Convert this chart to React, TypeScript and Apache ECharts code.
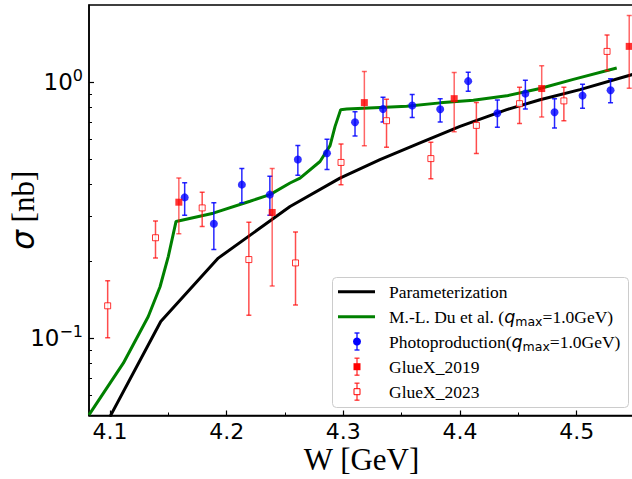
import React, { useEffect, useRef } from "react";
import * as echarts from "echarts";

// ---- data ----
const xTicksMajor = [4.1, 4.2, 4.3, 4.4, 4.5];
const xTicksMinor = [4.15, 4.25, 4.35, 4.45];
const yTicksMajor = [0.1, 1];
const yTicksMinor = [0.06, 0.07, 0.08, 0.09, 0.2, 0.3, 0.4, 0.5, 0.6, 0.7, 0.8, 0.9];

const paramW = [4.1, 4.1435, 4.1928, 4.2543, 4.2971, 4.3314, 4.3657, 4.4, 4.44, 4.4686, 4.5028, 4.5491];
const paramS = [0.0495, 0.1163, 0.2057, 0.327, 0.422, 0.498, 0.579, 0.672, 0.781, 0.854, 0.935, 1.075];

const duW = [4.082, 4.1114, 4.1328, 4.1429, 4.15, 4.1566, 4.1885, 4.22, 4.2371, 4.2543, 4.2629, 4.28, 4.2886, 4.2929, 4.2977, 4.3029, 4.3314, 4.3543, 4.3829, 4.4114, 4.44, 4.4686, 4.4971, 4.5343];
const duS = [0.0503, 0.08, 0.1217, 0.159, 0.209, 0.286, 0.308, 0.343, 0.364, 0.404, 0.422, 0.49, 0.565, 0.672, 0.781, 0.785, 0.797, 0.805, 0.83, 0.85, 0.884, 0.945, 1.025, 1.136];

const photoW = [4.164, 4.189, 4.213, 4.237, 4.261, 4.286, 4.31, 4.334, 4.359, 4.383, 4.407, 4.432, 4.456, 4.481, 4.505, 4.529];
const photoS = [0.355, 0.28, 0.398, 0.364, 0.499, 0.528, 0.697, 0.786, 0.81, 0.784, 1.009, 0.756, 0.902, 0.763, 0.886, 0.93];
const photoLo = [0.302, 0.222, 0.338, 0.302, 0.433, 0.456, 0.616, 0.699, 0.727, 0.699, 0.922, 0.666, 0.786, 0.662, 0.791, 0.83];
const photoHi = [0.405, 0.338, 0.46, 0.429, 0.566, 0.598, 0.767, 0.873, 0.894, 0.862, 1.094, 0.852, 1.018, 0.862, 0.982, 1.03];

const g19W = [4.159, 4.239, 4.318, 4.395, 4.47, 4.545];
const g19S = [0.34, 0.31, 0.832, 0.862, 0.944, 1.379];
const g19Lo = [0.256, 0.16, 0.564, 0.64, 0.731, 0.947];
const g19Hi = [0.423, 0.46, 1.1, 1.09, 1.159, 1.82];

const g23W = [4.098, 4.139, 4.179, 4.219, 4.259, 4.298, 4.337, 4.375, 4.414, 4.451, 4.489, 4.526];
const g23S = [0.134, 0.247, 0.323, 0.203, 0.197, 0.486, 0.707, 0.503, 0.678, 0.824, 0.845, 1.318];
const g23Lo = [0.1005, 0.206, 0.273, 0.123, 0.135, 0.398, 0.557, 0.42, 0.527, 0.69, 0.707, 1.107];
const g23Hi = [0.168, 0.287, 0.372, 0.284, 0.26, 0.574, 0.858, 0.583, 0.832, 0.956, 0.956, 1.528];

const legendNames = [
  "Parameterization",
  "M.-L. Du et al. (",
  "Photoproduction(",
  "GlueX_2019",
  "GlueX_2023",
];

const X_MIN = 4.082;
const X_MAX = 4.5491;
const Y_MIN = 0.05;
const Y_MAX = 2.0;

const SERIF = "Liberation Serif";
const SANS = "DejaVu Sans";

function errRender(color: string, cap: number) {
  return (params: any, api: any) => {
    const x = api.value(0);
    const lo = api.coord([x, api.value(1)]);
    const hi = api.coord([x, api.value(2)]);
    const style = { stroke: color, lineWidth: 1.5 };
    return {
      type: "group",
      children: [
        { type: "line", shape: { x1: lo[0], y1: lo[1], x2: hi[0], y2: hi[1] }, style },
        { type: "line", shape: { x1: lo[0] - cap, y1: lo[1], x2: lo[0] + cap, y2: lo[1] }, style },
        { type: "line", shape: { x1: hi[0] - cap, y1: hi[1], x2: hi[0] + cap, y2: hi[1] }, style },
      ],
    };
  };
}

const zip2 = (a: number[], b: number[]) => a.map((v, i) => [v, b[i]]);
const zip3 = (a: number[], b: number[], c: number[]) => a.map((v, i) => [v, b[i], c[i]]);

function buildLegend() {
  const lx = 332.5, ly = 277.5, lw = 296, lh = 130;
  const rows = [291.7, 316.7, 341.5, 366.7, 391.7];
  const hx1 = 338, hx2 = 375, hc = 357;
  const tx = 389;
  const fs = 17.5;
  const richBase = {
    t: { fontFamily: SERIF, fontSize: fs, lineHeight: 22, fill: "#000" },
    q: { fontFamily: SANS, fontStyle: "italic", fontSize: fs, lineHeight: 22, fill: "#000" },
    m: { fontFamily: SANS, fontSize: 12.5, lineHeight: 12, verticalAlign: "bottom", fill: "#000" },
  };
  const els: any[] = [];
  els.push({
    type: "rect",
    shape: { x: lx, y: ly, width: lw, height: lh, r: 4 },
    style: { fill: "rgba(255,255,255,0.8)", stroke: "#cccccc", lineWidth: 1 },
    z: 100,
  });
  els.push({ type: "line", shape: { x1: hx1, y1: rows[0], x2: hx2, y2: rows[0] }, style: { stroke: "#000", lineWidth: 3 }, z: 101 });
  els.push({ type: "line", shape: { x1: hx1, y1: rows[1], x2: hx2, y2: rows[1] }, style: { stroke: "#008000", lineWidth: 3 }, z: 101 });
  const eb = (cy: number, color: string, half: number) => [
    { type: "line", shape: { x1: hc, y1: cy - half, x2: hc, y2: cy + half }, style: { stroke: color, lineWidth: 1.5 }, z: 101 },
    { type: "line", shape: { x1: hc - 2.5, y1: cy - half, x2: hc + 2.5, y2: cy - half }, style: { stroke: color, lineWidth: 1.5 }, z: 101 },
    { type: "line", shape: { x1: hc - 2.5, y1: cy + half, x2: hc + 2.5, y2: cy + half }, style: { stroke: color, lineWidth: 1.5 }, z: 101 },
  ];
  els.push(...eb(rows[2], "rgba(0,0,255,0.85)", 8.5));
  els.push({ type: "circle", shape: { cx: hc, cy: rows[2], r: 4 }, style: { fill: "#0000ff" }, z: 102 });
  els.push(...eb(rows[3], "rgba(255,0,0,0.7)", 8.5));
  els.push({ type: "rect", shape: { x: hc - 3.5, y: rows[3] - 3.5, width: 7, height: 7 }, style: { fill: "#ff0000" }, z: 102 });
  els.push(...eb(rows[4], "rgba(255,0,0,0.7)", 8.5));
  els.push({ type: "rect", shape: { x: hc - 3, y: rows[4] - 3, width: 6, height: 6 }, style: { fill: "#ffffff", stroke: "#ff0000", lineWidth: 1 }, z: 102 });

  const texts = [
    `{t|${legendNames[0]}}`,
    `{t|${legendNames[1]}}{q|q}{m|max}{t|=1.0GeV)}`,
    `{t|${legendNames[2]}}{q|q}{m|max}{t|=1.0GeV)}`,
    `{t|${legendNames[3]}}`,
    `{t|${legendNames[4]}}`,
  ];
  texts.forEach((t, i) => {
    els.push({
      type: "text",
      x: tx,
      y: rows[i],
      style: { text: t, rich: richBase, verticalAlign: "middle", align: "left", fontFamily: SERIF, fontSize: fs },
      z: 102,
    });
  });
  return els;
}

export default function App() {
  const ref = useRef<HTMLDivElement>(null);
  useEffect(() => {
    document.body.style.margin = "0";
    if (!ref.current) return;
    const chart = echarts.init(ref.current, undefined, { renderer: "svg" });
    const axisLineStyle = { color: "#000", width: 1.5 };
    const option: any = {
      animation: false,
      backgroundColor: "#fff",
      grid: {
        left: 89,
        right: -2,
        top: 5,
        bottom: 63.5,
        show: true,
        borderColor: "#000",
        borderWidth: 1.5,
        backgroundColor: "transparent",
        containLabel: false,
        outerBoundsMode: "none",
      },
      xAxis: [
        {
          type: "value",
          min: X_MIN,
          max: X_MAX,
          position: "bottom",
          axisLine: { show: true, lineStyle: axisLineStyle },
          axisTick: { show: true, inside: true, length: 5, customValues: xTicksMajor, lineStyle: { color: "#000", width: 1.2 } },
          axisLabel: {
            customValues: xTicksMajor,
            formatter: (v: number) => v.toFixed(1),
            fontFamily: SANS,
            fontSize: 22,
            lineHeight: 22,
            color: "#000",
            margin: 5,
          },
          splitLine: { show: false },
          name: "W [GeV]",
          nameLocation: "middle",
          nameGap: 31,
          nameMoveOverlap: false,
          nameTextStyle: { fontFamily: SERIF, fontSize: 31, lineHeight: 26, color: "#000" },
        },
        {
          type: "value",
          min: X_MIN,
          max: X_MAX,
          position: "bottom",
          axisLine: { show: false },
          axisTick: { show: true, inside: true, length: 3, customValues: xTicksMinor, lineStyle: { color: "#000", width: 1 } },
          axisLabel: { show: false },
          splitLine: { show: false },
        },
      ],
      yAxis: [
        {
          type: "log",
          logBase: 10,
          min: Y_MIN,
          max: Y_MAX,
          position: "left",
          axisLine: { show: true, lineStyle: axisLineStyle },
          axisTick: { show: true, inside: true, length: 5, customValues: yTicksMajor, lineStyle: { color: "#000", width: 1.2 } },
          axisLabel: {
            customValues: yTicksMajor,
            formatter: (v: number) => {
              const e = Math.round(Math.log10(v));
              return `{b|10}{s|${e < 0 ? "\u2212" : ""}${Math.abs(e)}}`;
            },
            margin: 6,
            rich: {
              b: { fontFamily: SANS, fontSize: 23, lineHeight: 30, color: "#000" },
              s: { fontFamily: SANS, fontSize: 16, lineHeight: 16, verticalAlign: "top", color: "#000" },
            },
          },
          splitLine: { show: false },
          name: "{s|\u03c3}{n| [nb]}",
          nameLocation: "middle",
          nameRotate: 90,
          nameGap: 66,
          nameMoveOverlap: false,
          nameTextStyle: {
            verticalAlign: "middle",
            rich: {
              s: { fontFamily: SANS, fontStyle: "italic", fontSize: 31, lineHeight: 34, color: "#000" },
              n: { fontFamily: SERIF, fontSize: 31, lineHeight: 34, color: "#000" },
            },
          },
        },
        {
          type: "log",
          logBase: 10,
          min: Y_MIN,
          max: Y_MAX,
          position: "left",
          axisLine: { show: false },
          axisTick: { show: true, inside: true, length: 3, customValues: yTicksMinor, lineStyle: { color: "#000", width: 1 } },
          axisLabel: { show: false },
          splitLine: { show: false },
        },
      ],
      series: [
        {
          name: legendNames[0],
          type: "line",
          data: zip2(paramW, paramS),
          symbol: "none",
          lineStyle: { color: "#000", width: 3 },
          z: 2,
          clip: true,
        },
        {
          name: "Du",
          type: "line",
          data: zip2(duW, duS),
          symbol: "none",
          lineStyle: { color: "#008000", width: 3 },
          z: 2,
          clip: true,
        },
        {
          type: "custom",
          data: zip3(photoW, photoLo, photoHi),
          encode: { x: 0, y: [1, 2] },
          renderItem: errRender("rgba(0,0,255,0.85)", 2.5),
          z: 3,
          clip: true,
        },
        {
          type: "custom",
          data: zip3(g19W, g19Lo, g19Hi),
          encode: { x: 0, y: [1, 2] },
          renderItem: errRender("rgba(255,0,0,0.6)", 2.5),
          z: 3,
          clip: true,
        },
        {
          type: "custom",
          data: zip3(g23W, g23Lo, g23Hi),
          encode: { x: 0, y: [1, 2] },
          renderItem: errRender("rgba(255,0,0,0.7)", 2.5),
          z: 3,
          clip: true,
        },
        {
          name: legendNames[2],
          type: "scatter",
          data: zip2(photoW, photoS),
          symbol: "circle",
          symbolSize: 8,
          itemStyle: { color: "#0000ff" },
          z: 4,
        },
        {
          name: legendNames[3],
          type: "scatter",
          data: zip2(g19W, g19S),
          symbol: "rect",
          symbolSize: 7,
          itemStyle: { color: "#ff0000" },
          z: 4,
        },
        {
          name: legendNames[4],
          type: "scatter",
          data: zip2(g23W, g23S),
          symbol: "rect",
          symbolSize: 6,
          itemStyle: { color: "#ffffff", borderColor: "#ff0000", borderWidth: 1 },
          z: 4,
        },
      ],
      graphic: buildLegend(),
    };
    chart.setOption(option);
    return () => chart.dispose();
  }, []);
  return <div ref={ref} style={{ position: "fixed", left: 0, top: 0, width: 632, height: 479 }} />;
}
